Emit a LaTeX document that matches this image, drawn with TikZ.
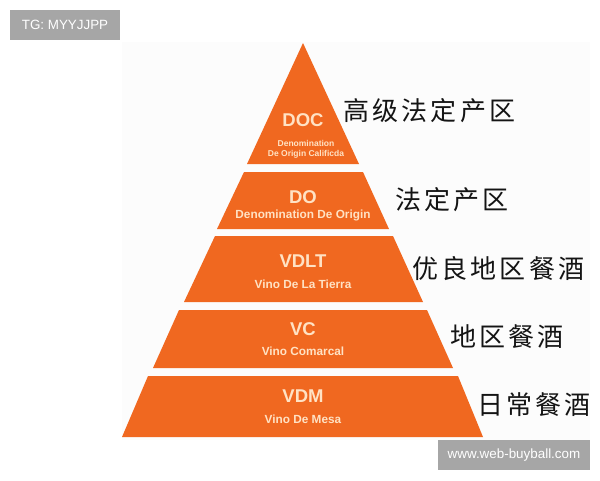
\documentclass[tikz,border=0pt]{standalone}
\usepackage{fontspec}
\setmainfont{Liberation Sans}
\newfontfamily\cjk[LetterSpace=12.5]{Noto Sans CJK SC}
\definecolor{orangevin}{RGB}{240,104,32}
\definecolor{creme}{RGB}{255,226,196}
\definecolor{grisbande}{RGB}{166,166,166}
\tikzstyle{tranche}=[fill=orangevin]
\tikzstyle{sigle}=[text=creme,inner sep=0,font=\bfseries\fontsize{18.5}{18.5}\selectfont]
\tikzstyle{nomvin}=[text=creme,inner sep=0,font=\bfseries\fontsize{11.8}{11.8}\selectfont]
\tikzstyle{petit}=[text=creme,inner sep=0,font=\bfseries\fontsize{8.5}{8.5}\selectfont]
\tikzstyle{classe}=[inner sep=0,anchor=west,text=black!92,font=\cjk\fontsize{26}{26}\selectfont]
\tikzstyle{bande}=[fill=grisbande,text=white,inner sep=0,font=\fontsize{13.4}{13.4}\selectfont]
\begin{document}
\begin{tikzpicture}[x=1pt,y=-1pt]
\useasboundingbox (0,0) rectangle (600,480);
\fill[black!1] (122,42) rectangle (590,440);

%tranches
\fill[tranche] (303,43) -- (359,164) -- (247,164) -- cycle;
\foreach \ht/\bas/\ga/\gb/\da/\db in {172/229/244/217/363/389,
  236/302/215/184/393/423,310/368/179/153/427/453,376/437/148/122/458/483}
  \fill[tranche] (\ga,\ht) -- (\da,\ht) -- (\db,\bas) -- (\gb,\bas) -- cycle;

%textes
\node[sigle] (doc) at (303,120) {DOC};
\node[petit] (docnoma) at (306,143) {Denomination};
\node[petit] (docnomb) at (306,154) {De Origin Calificda};
\node[sigle] (do) at (303,197) {DO};
\node[nomvin] (donom) at (303,215) {Denomination De Origin};
\node[sigle] (vdlt) at (303,261) {VDLT};
\node[nomvin] (vdltnom) at (303,284) {Vino De La Tierra};
\node[sigle] (vc) at (303,329) {VC};
\node[nomvin] (vcnom) at (303,351) {Vino Comarcal};
\node[sigle] (vdm) at (303,396) {VDM};
\node[nomvin] (vdmnom) at (303,419) {Vino De Mesa};

%classes
\node[classe] (cla) at (343,111) {高级法定产区};
\node[classe] (clb) at (395,200) {法定产区};
\node[classe] (clc) at (412,269) {优良地区餐酒};
\node[classe] (cld) at (450,337) {地区餐酒};
\node[classe] (cle) at (477,405) {日常餐酒};

%bandes
\node[bande,minimum width=110,minimum height=30] (tg) at (65,25) {TG: MYYJJPP};
\node[bande,minimum width=152,minimum height=30] (web) at (514,455) {www.web-buyball.com};
\end{tikzpicture}
\end{document}
